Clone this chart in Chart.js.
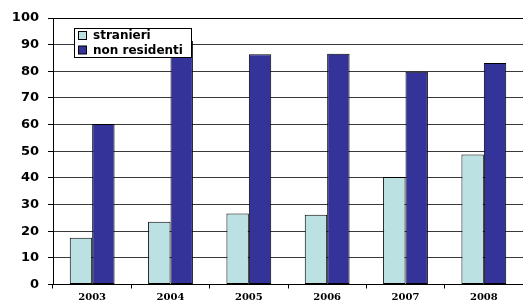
<!DOCTYPE html>
<html>
<head>
<meta charset="utf-8">
<script src="https://cdn.jsdelivr.net/npm/chart.js@4.4.0/dist/chart.umd.min.js"></script>
<style>
html,body{margin:0;padding:0;background:#fff;}
#wrap{width:523px;height:303px;position:relative;}
</style>
</head>
<body>
<div id="wrap"><canvas id="c" width="523" height="303"></canvas></div>
<script>
const categories = ['2003','2004','2005','2006','2007','2008'];
const stranieri = [17.5, 23.5, 26.6, 26.2, 40.3, 48.8];
const nonResidenti = [60.2, 91.5, 86.4, 86.6, 79.8, 83.1];
const seriesNames = ['stranieri', 'non residenti'];
const yMin = 0, yMax = 100, yStep = 10;

const colStr = '#BCE1E3';
const colNon = '#333399';

const boxLegend = {
  id: 'boxLegend',
  afterDraw(chart) {
    const ctx = chart.ctx;
    ctx.save();
    const x = 74.5, y = 28.5, w = 117, h = 29;
    ctx.fillStyle = '#fff';
    ctx.fillRect(x, y, w, h);
    ctx.strokeStyle = '#000';
    ctx.lineWidth = 1;
    ctx.strokeRect(x, y, w, h);
    ctx.font = 'bold 12px "DejaVu Sans"';
    ctx.textBaseline = 'middle';
    chart.data.datasets.forEach((ds, i) => {
      const cy = 35.5 + i * 14.5;
      ctx.fillStyle = ds.backgroundColor;
      ctx.fillRect(78.5, cy - 4, 8, 8);
      ctx.strokeStyle = '#000';
      ctx.strokeRect(78.5, cy - 4, 8, 8);
      ctx.fillStyle = '#000';
      ctx.fillText(ds.label, 93, cy + 0.5);
    });
    ctx.restore();
  }
};

new Chart(document.getElementById('c'), {
  type: 'bar',
  data: {
    labels: categories,
    datasets: [
      { label: seriesNames[0], data: stranieri, backgroundColor: colStr, borderColor: '#000', borderWidth: 1, borderSkipped: false },
      { label: seriesNames[1], data: nonResidenti, backgroundColor: colNon, borderColor: '#000', borderWidth: 1, borderSkipped: false }
    ]
  },
  options: {
    responsive: false,
    animation: false,
    devicePixelRatio: 1,
    layout: { padding: { top: 18, right: -2, left: 0, bottom: 0 } },
    datasets: { bar: { categoryPercentage: 0.572, barPercentage: 1.0 } },
    plugins: { legend: { display: false }, tooltip: { enabled: false } },
    scales: {
      x: {
        afterFit: s => { s.height = 18.5; },
        grid: { offset: true, drawOnChartArea: false, drawTicks: true, tickLength: 4, tickColor: '#000' },
        border: { color: '#000', width: 1 },
        ticks: { color: '#000', font: { family: '"DejaVu Serif"', weight: 'bold', size: 10 }, padding: 3 }
      },
      y: {
        min: yMin, max: yMax,
        afterFit: s => { s.width = 53; },
        grid: { color: ctx => (ctx.tick && ctx.tick.value === yMax ? '#000' : '#3a3a3a'), lineWidth: 1, tickLength: 5, tickColor: '#000' },
        border: { color: '#000', width: 1 },
        ticks: { stepSize: yStep, color: '#000', font: { family: '"DejaVu Sans"', weight: 'bold', size: 13 }, padding: 9 }
      }
    }
  },
  plugins: [boxLegend]
});
</script>
</body>
</html>
